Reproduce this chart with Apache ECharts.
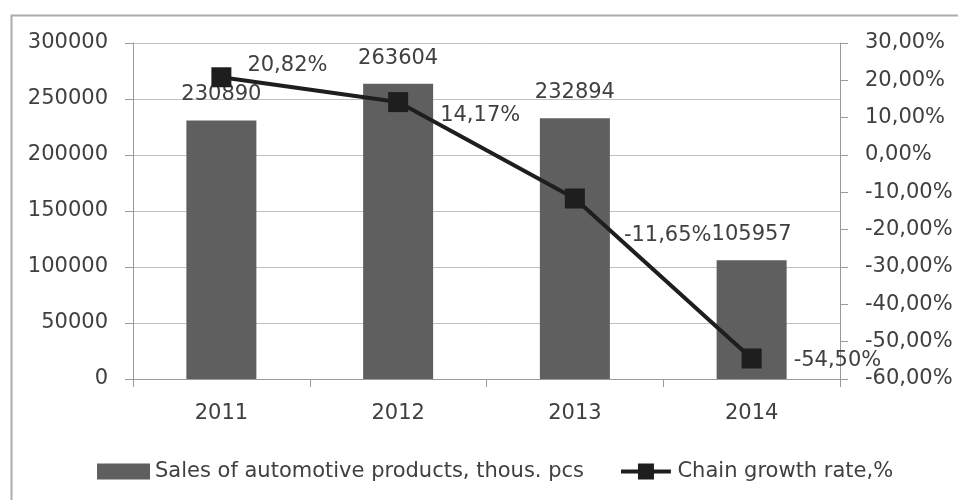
<!DOCTYPE html>
<html><head><meta charset="utf-8">
<script src="https://cdn.jsdelivr.net/npm/echarts@6/dist/echarts.min.js"></script>
<style>html,body{margin:0;padding:0;background:#fff}#c{width:958px;height:500px}</style>
</head><body><div id="c"></div>
<script>
const years = ['2011', '2012', '2013', '2014'];
const sales = [230890, 263604, 232894, 105957];
const growth = [20.82, 14.17, -11.65, -54.50];
const salesName = 'Sales of automotive products, thous. pcs';
const growthName = 'Chain growth rate,%';

const growthLabelOffsets = [[16, -12], [32, 13], [39, 37], [32, 2]];
const FONT = 'DejaVu Sans';
const TXT = '#404040';
const fmtPct = v => v.toFixed(2).replace('.', ',') + '%';
const lineIcon = 'path://M0,6.5 L18,6.5 L18,0 L35,0 L35,6.5 L53,6.5 L53,10.5 L35,10.5 L35,17 L18,17 L18,10.5 L0,10.5 Z';

const chart = echarts.init(document.getElementById('c'), null, {renderer: 'canvas'});
chart.setOption({
  animation: false,
  backgroundColor: '#fff',
  textStyle: {fontFamily: FONT},
  graphic: [{
    type: 'rect', left: 9, top: 13, shape: {width: 980, height: 520},
    style: {fill: 'none', stroke: '#acacac', lineWidth: 2}, silent: true
  }],
  grid: {left: 133, right: 118, top: 43, bottom: 121, containLabel: false},
  legend: {
    left: 92, top: 456, itemGap: 37, itemWidth: 53, itemHeight: 16,
    textStyle: {fontFamily: FONT, fontSize: 21, color: TXT, padding: [0, 0, 0, 0]},
    data: [
      {name: salesName, icon: 'rect'},
      {name: growthName, icon: lineIcon, itemStyle: {color: '#1e1e1e', borderWidth: 0}}
    ]
  },
  xAxis: {
    type: 'category', data: years,
    axisLine: {lineStyle: {color: '#9a9a9a', width: 1}},
    axisTick: {show: true, length: 8, lineStyle: {color: '#9a9a9a'}},
    axisLabel: {fontFamily: FONT, fontSize: 21, color: TXT, margin: 24}
  },
  yAxis: [{
    type: 'value', min: 0, max: 300000, interval: 50000,
    axisLine: {show: true, lineStyle: {color: '#9a9a9a'}},
    axisTick: {show: true, length: 8, lineStyle: {color: '#9a9a9a'}},
    splitLine: {show: true, lineStyle: {color: '#c0c0c0', width: 1}},
    axisLabel: {fontFamily: FONT, fontSize: 21, color: TXT, margin: 25, formatter: v => String(v)}
  }, {
    type: 'value', min: -60, max: 30, interval: 10, position: 'right',
    axisLine: {show: true, lineStyle: {color: '#9a9a9a'}},
    axisTick: {show: true, length: 8, lineStyle: {color: '#9a9a9a'}},
    splitLine: {show: false},
    axisLabel: {fontFamily: FONT, fontSize: 21, color: TXT, margin: 25, formatter: fmtPct}
  }],
  series: [{
    name: salesName, type: 'bar', data: sales, yAxisIndex: 0,
    barWidth: 70,
    itemStyle: {color: '#5f5f5f'},
    label: {show: true, position: 'top', distance: 15, fontFamily: FONT, fontSize: 21, color: TXT}
  }, {
    name: growthName, type: 'line', yAxisIndex: 1, z: 5,
    data: growth.map((v, i) => ({value: v, label: {offset: growthLabelOffsets[i]}})),
    lineStyle: {color: '#1e1e1e', width: 4},
    itemStyle: {color: '#1e1e1e'},
    symbol: 'rect', symbolSize: 20, showAllSymbol: true,
    label: {show: true, position: 'right', distance: 0, fontFamily: FONT, fontSize: 21, color: TXT,
      formatter: p => fmtPct(p.value)}
  }]
});
</script></body></html>
